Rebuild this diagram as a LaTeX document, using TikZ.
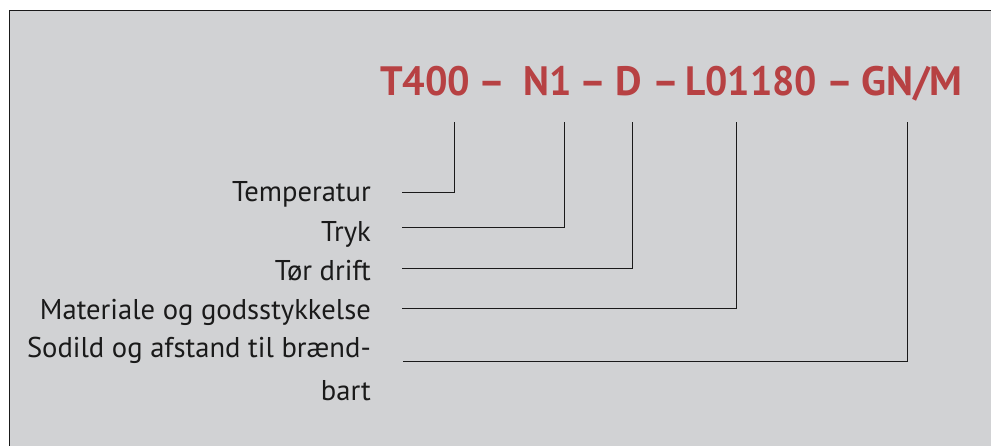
\documentclass[tikz,border=0pt]{standalone}
\usepackage{fontspec}
\setmainfont{PT Sans}
\definecolor{panelgray}{RGB}{209,210,212}
\definecolor{codered}{RGB}{183,65,67}
\definecolor{inkblack}{RGB}{26,26,26}
\begin{document}
\begin{tikzpicture}[x=1pt,y=-1pt,
  codepart/.style={anchor=base west,inner sep=0pt,text=codered,font=\fontsize{41}{41}\selectfont\bfseries},
  label/.style={anchor=base east,inner sep=0pt,text=inkblack,font=\fontsize{28.6}{28.6}\selectfont},
  leader/.style={draw=inkblack,line width=1.1pt}]
\useasboundingbox (0,0) rectangle (991,446);
\fill[white] (0,0) rectangle (991,446);
\draw[fill=panelgray,draw=inkblack,line width=1.5pt] (9.5,10.5) rectangle (1000,460);
% code
\node[codepart] (cT) at (380,96) {\scalebox{0.97}[1]{T400}};
\node[codepart] (d1) at (478,96) {–};
\node[codepart] (cN) at (523,96) {\scalebox{0.96}[1]{N1}};
\node[codepart] (d2) at (579,96) {–};
\node[codepart] (cD) at (615,96) {D};
\node[codepart] (d3) at (652,96) {–};
\node[codepart] (cL) at (685,96) {\scalebox{0.96}[1]{L01180}};
\node[codepart] (d4) at (826,96) {–};
\node[codepart] (cG) at (861,96) {GN/M};
% labels
\node[label] (l1) at (371,201.7) {Temperatur};
\node[label] (l2) at (371,241.7) {Tryk};
\node[label] (l3) at (371,280.7) {Tør drift};
\node[label] (l4) at (371,320) {Materiale og godsstykkelse};
\node[label] (l5) at (371,358) {Sodild og afstand til brænd-};
\node[label] (l6) at (371,400) {bart};
% leader ends
\coordinate (a1) at (402,192.5);
\coordinate (a2) at (402,227.5);
\coordinate (a3) at (402,268.5);
\coordinate (a4) at (402,308.5);
\coordinate (a5) at (403,361.5);
\coordinate (t1) at (454.5,122.5);
\coordinate (t2) at (564.5,122.5);
\coordinate (t3) at (632.5,122.5);
\coordinate (t4) at (736.5,122.5);
\coordinate (t5) at (907.5,122.5);
\draw[leader] (a1) -| (t1);
\draw[leader] (a2) -| (t2);
\draw[leader] (a3) -| (t3);
\draw[leader] (a4) -| (t4);
\draw[leader] (a5) -| (t5);
\end{tikzpicture}
\end{document}
